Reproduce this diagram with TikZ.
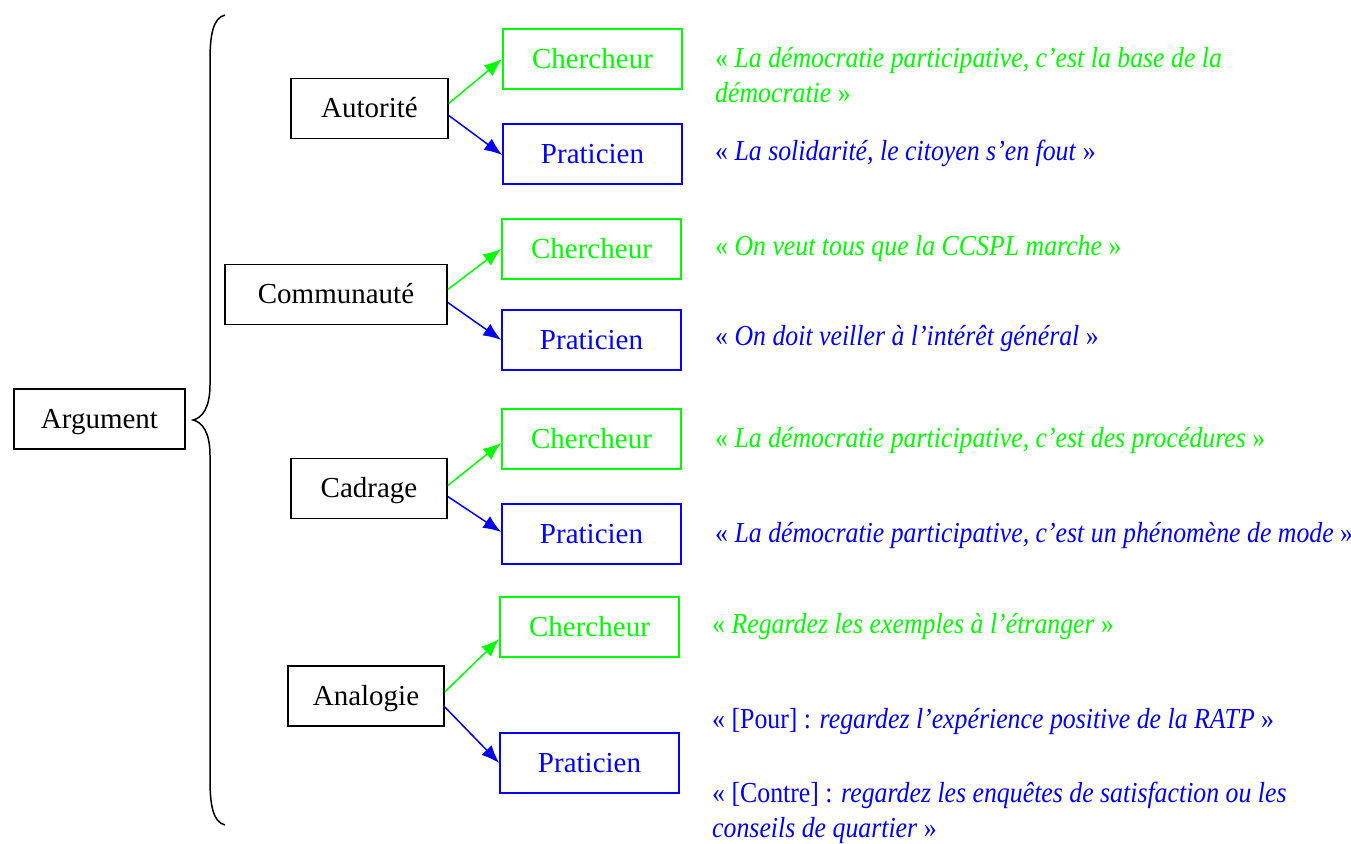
\documentclass[tikz,border=0pt]{standalone}
\usepackage{fontspec}
\setmainfont{Liberation Serif}
\newfontfamily\qfont[FakeStretch=0.89]{Liberation Serif}
\usetikzlibrary{arrows.meta}
\definecolor{qgreen}{RGB}{0,250,0}
\definecolor{qblue}{RGB}{0,0,250}
\tikzset{
  box/.style={draw, line width=1.6pt, rectangle, inner sep=0pt, minimum height=60pt,
    text height=22pt, text depth=4pt, font=\fontsize{29}{32}\selectfont},
  blk/.style={box, draw=black, text=black},
  gbox/.style={box, draw=qgreen, text=qgreen, minimum width=179pt},
  bbox/.style={box, draw=qblue, text=qblue, minimum width=179pt},
  garr/.style={draw=qgreen, line width=1.5pt, -{Latex[length=18pt,width=14pt]}},
  barr/.style={draw=qblue, line width=1.5pt, -{Latex[length=18pt,width=14pt]}},
  quote/.style={anchor=base west, inner sep=0pt, align=left, font=\qfont\fontsize{29}{35}\selectfont},
  gq/.style={quote, text=qgreen},
  bq/.style={quote, text=qblue},
}
\begin{document}
\begin{tikzpicture}[x=1pt,y=-1pt]
\useasboundingbox (0,0) rectangle (1351,843);
% root
\node[blk, minimum width=171pt] (arg) at (99.5,419) {Argument};
% brace
\draw[line width=1.5pt] (225,15) .. controls (213,18) and (210,35) .. (210,60)
  -- (210,385) .. controls (210,408) and (202,418) .. (193,420)
  .. controls (202,422) and (210,432) .. (210,455)
  -- (210,780) .. controls (210,805) and (213,822) .. (225,825);
% categories
\node[blk, minimum width=157pt] (aut) at (369.5,108.5) {Autorité};
\node[blk, minimum width=222pt] (com) at (336,294.5) {Communauté};
\node[blk, minimum width=156pt] (cad) at (369,488.5) {Cadrage};
\node[blk, minimum width=156pt] (ana) at (366,696) {Analogie};
% children
\node[gbox] (c1) at (592.5,59) {Chercheur};
\node[bbox] (p1) at (592.5,154) {Praticien};
\node[gbox] (c2) at (591.5,249) {Chercheur};
\node[bbox] (p2) at (591.5,340) {Praticien};
\node[gbox] (c3) at (591.5,439) {Chercheur};
\node[bbox] (p3) at (591.5,534) {Praticien};
\node[gbox] (c4) at (589.5,627) {Chercheur};
\node[bbox] (p4) at (589.5,763) {Praticien};
% arrows
\draw[garr] ([yshift=5pt]aut.east) -- (c1.west);
\draw[barr] ([yshift=-7pt]aut.east) -- ([yshift=-1pt]p1.west);
\draw[garr] ([yshift=5pt]com.east) -- (c2.west);
\draw[barr] ([yshift=-8pt]com.east) -- (p2.west);
\draw[garr] ([yshift=3pt]cad.east) -- ([yshift=-4pt]c3.west);
\draw[barr] ([yshift=-8pt]cad.east) -- ([yshift=2pt]p3.west);
\draw[garr] ([yshift=4pt]ana.east) -- ([yshift=-12pt]c4.west);
\draw[barr] ([yshift=-11pt]ana.east) -- (p4.west);
% quotes
\node[gq] (q1) at (715,102) {« \textit{La démocratie participative, c’est la base de la}\\\textit{démocratie} »};
\node[bq] (q2) at (715,160) {« \textit{La solidarité, le citoyen s’en fout} »};
\node[gq] (q3) at (715,255) {« \textit{On veut tous que la CCSPL marche} »};
\node[bq] (q4) at (715,345) {« \textit{On doit veiller à l’intérêt général} »};
\node[gq] (q5) at (715,447) {« \textit{La démocratie participative, c’est des procédures} »};
\node[bq] (q6) at (715,542) {« \textit{La démocratie participative, c’est un phénomène de mode} »};
\node[gq] (q7) at (712,633) {« \textit{Regardez les exemples à l’étranger} »};
\node[bq] (q8) at (712,728) {« [Pour] : \textit{regardez l’expérience positive de la RATP} »};
\node[bq] (q9) at (712,837) {« [Contre] : \textit{regardez les enquêtes de satisfaction ou les}\\\textit{conseils de quartier} »};
\end{tikzpicture}
\end{document}
